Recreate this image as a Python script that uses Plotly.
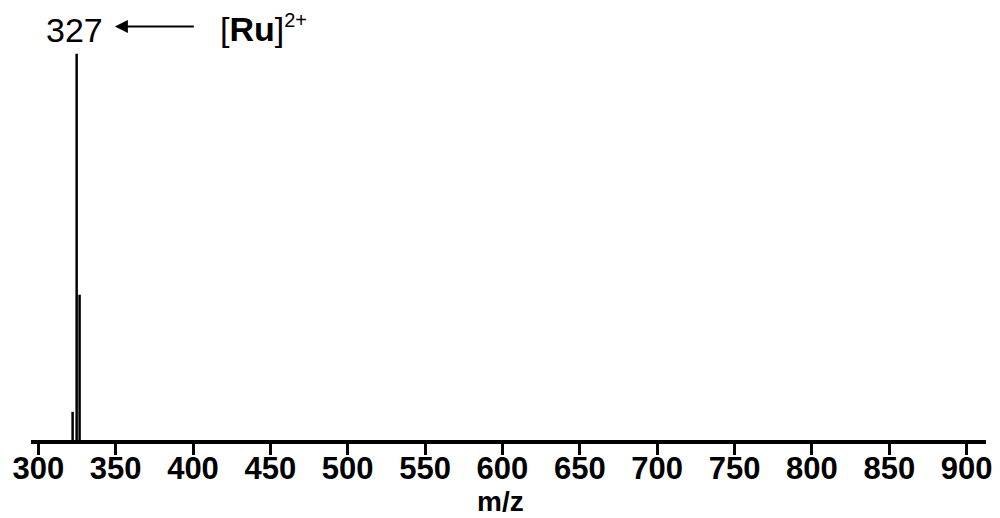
import plotly.graph_objects as go

# Data
mz = [322.2, 324.8, 326.7]
intensity = [7.3, 100.0, 37.6]
tick_vals = [300, 350, 400, 450, 500, 550, 600, 650, 700, 750, 800, 850, 900]
tick_labels = [str(v) for v in tick_vals]
peak_label = "327"
ion_label = "[<b>Ru</b>]<sup><span style='font-size:20px'>2+</span></sup>"
x_title = "<b>m/z</b>"

xs, ys = [], []
for m, i in zip(mz, intensity):
    xs += [m, m, None]
    ys += [0, i, None]

fig = go.Figure()
fig.add_trace(go.Scatter(x=xs, y=ys, mode="lines",
                         line=dict(color="black", width=2.5),
                         hoverinfo="skip", showlegend=False))

FONT = "Liberation Sans, Arial, sans-serif"

fig.add_annotation(x=323.1, y=106.0, xref="x", yref="y", text=peak_label,
                   showarrow=False, font=dict(family=FONT, size=34, color="black"),
                   xanchor="center", yanchor="middle")
fig.add_annotation(x=416.0, y=106.5, xref="x", yref="y", text=ion_label,
                   showarrow=False, font=dict(family=FONT, size=34, color="black"),
                   xanchor="left", yanchor="middle")
fig.add_annotation(x=349.5, y=107.0, xref="x", yref="y", text="",
                   ax=401.5, ay=107.0, axref="x", ayref="y",
                   showarrow=True, arrowhead=2, arrowsize=1.3, arrowwidth=2,
                   arrowcolor="black")
fig.add_annotation(x=0.492, y=-0.1835, xref="paper", yref="paper", text=x_title,
                   showarrow=False, font=dict(family=FONT, size=28, color="black"),
                   xanchor="center", yanchor="bottom", borderpad=0)

fig.update_layout(
    width=1000, height=518,
    margin=dict(l=31, r=14, t=15, b=78),
    paper_bgcolor="white", plot_bgcolor="white",
    font=dict(family=FONT, color="black"),
    xaxis=dict(range=[295.3, 912.5], tickvals=tick_vals, ticktext=tick_labels,
               automargin=False,
               showgrid=False, zeroline=False, showline=True,
               linecolor="black", linewidth=3.5,
               ticks="outside", ticklen=11, tickwidth=3, tickcolor="black",
               ticklabelstandoff=-13,
               tickfont=dict(family=FONT, size=31, color="black", weight="bold")),
    yaxis=dict(range=[0, 110], visible=False, showgrid=False, zeroline=False,
               automargin=False),
)

fig.write_html("out.html")
